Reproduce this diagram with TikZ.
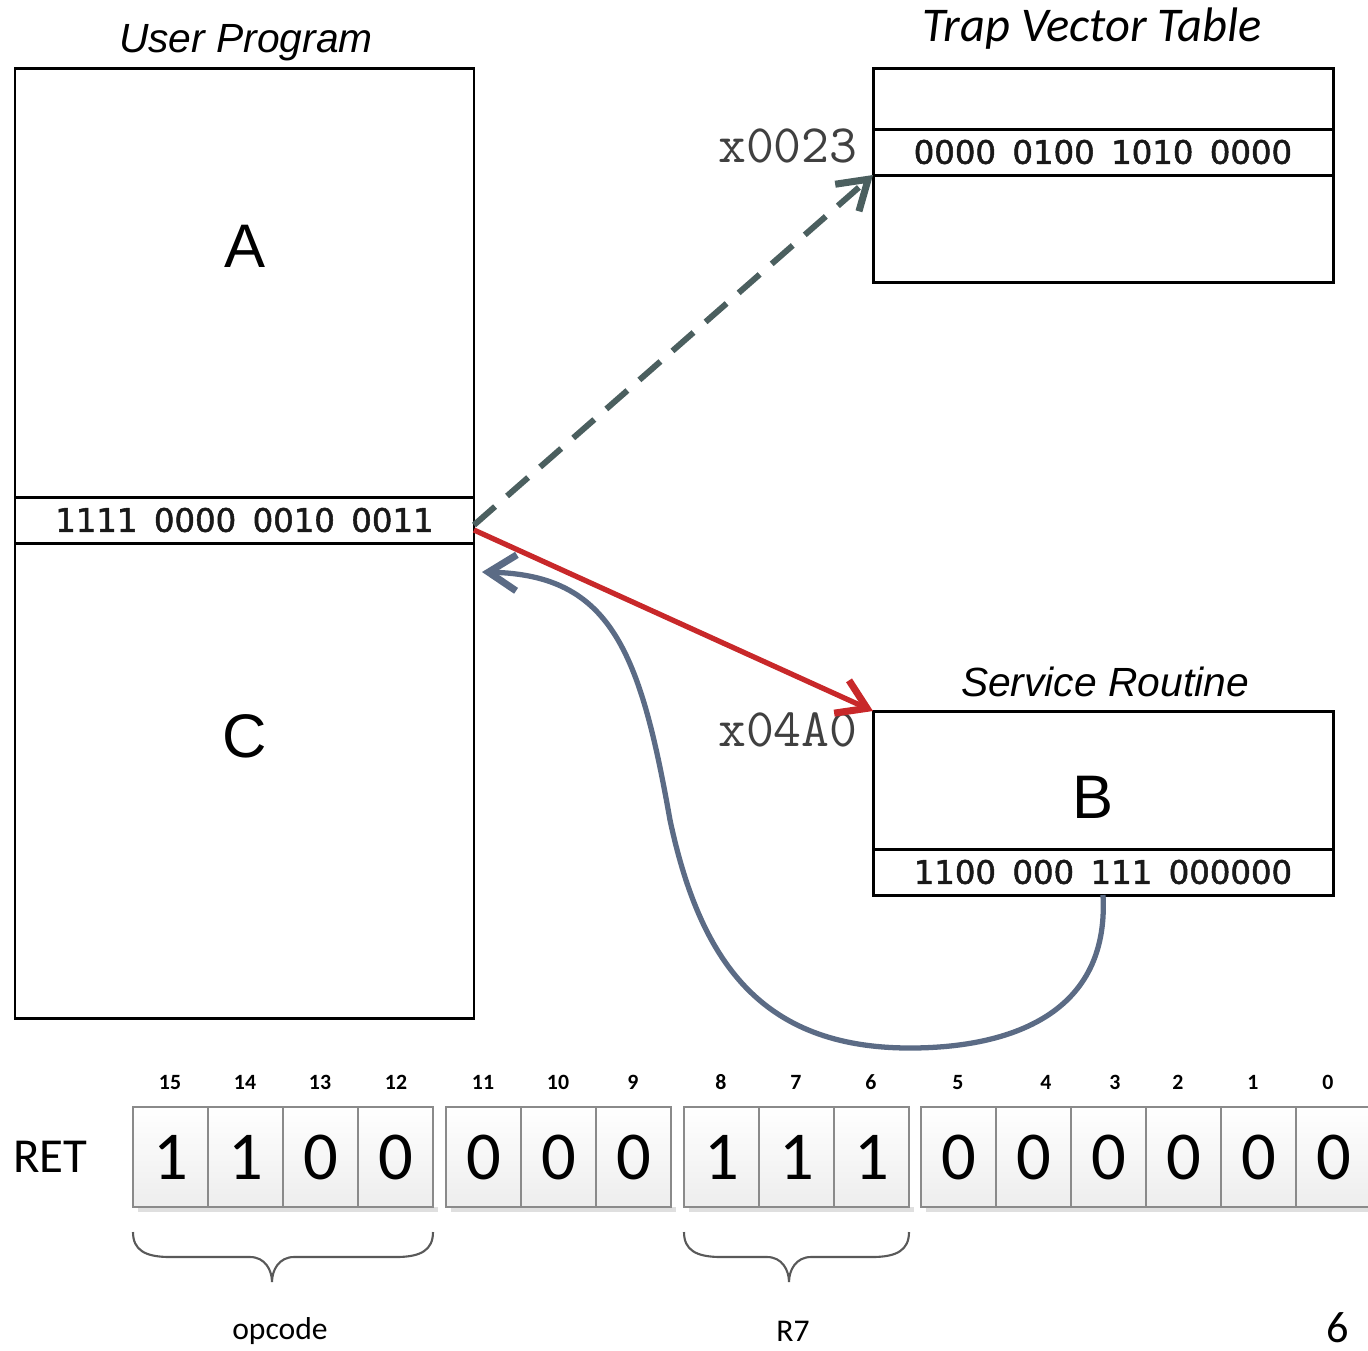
\documentclass[tikz,border=0pt]{standalone}
\usepackage{fontspec}
\setmainfont{Liberation Sans}
\newfontfamily\calibri{Carlito}
\newfontfamily\codefont[WordSpace=1.6, FakeBold=1.6]{DejaVu Sans}
\usetikzlibrary{arrows.meta,calc,positioning}
\definecolor{dashgray}{HTML}{4B5F5F}
\definecolor{jumpred}{HTML}{C8282A}
\definecolor{retblue}{HTML}{5B6B85}
\definecolor{cellgray}{HTML}{8A8A8A}
\tikzset{
  membox/.style={draw, line width=0.85pt, inner sep=0pt, outer sep=0pt, minimum width=4.59cm},
  title/.style={font=\itshape\fontsize{11.6}{13}\selectfont},
  letter/.style={font=\fontsize{17.5}{20}\selectfont},
  code/.style={font=\codefont\fontsize{9.2}{11}\selectfont, text=black!90},
  addr/.style={font=\ttfamily\fontsize{15.4}{17}\selectfont, anchor=east, text=black!75},
  barb/.style={-{Straight Barb[length=2.8mm, width=3.6mm, line width=2pt]}},
  bitcell/.style={draw=cellgray, line width=0.5pt, minimum width=0.75cm, minimum height=1cm,
    inner sep=0pt, top color=white, bottom color=gray!14, font=\calibri\fontsize{19.5}{22}\selectfont},
  bitno/.style={font=\calibri\bfseries\fontsize{6.2}{7}\selectfont},
  brace/.style={draw=black!65, line width=0.6pt},
  note/.style={font=\calibri\fontsize{9}{11}\selectfont},
}
\newcommand\bitbrace[3]{%
  \draw[brace] (#1,-12.32) .. controls (#1,-12.50) and (#1+0.12,-12.57) .. (#1+0.37,-12.57)
    -- (#2-0.22,-12.57) .. controls (#2-0.07,-12.57) and (#2,-12.70) .. (#2,-12.82)
    .. controls (#2,-12.70) and (#2+0.07,-12.57) .. (#2+0.22,-12.57)
    -- (#3-0.37,-12.57) .. controls (#3-0.12,-12.57) and (#3,-12.50) .. (#3,-12.32);}

\begin{document}
\begin{tikzpicture}
  \useasboundingbox (0,0) rectangle (13.68,-13.5);

  % User program
  \node[membox, minimum height=4.29cm] (userA) at (2.445,-2.825) {};
  \node[membox, minimum height=0.46cm] (userI) at (2.445,-5.20) {};
  \node[membox, minimum height=4.75cm] (userC) at (2.445,-7.805) {};
  \node[code] (trapinst) at (userI) {1111 0000 0010 0011};
  \node[letter] (lblA) at (2.45,-2.46) {A};
  \node[letter] (lblC) at (2.45,-7.36) {C};
  \node[title] (usertitle) at (2.46,-0.43) {User Program};

  % Trap vector table
  \node[membox, minimum width=4.60cm, minimum height=0.61cm] (tvtTop) at (11.03,-0.985) {};
  \node[membox, minimum width=4.60cm, minimum height=0.46cm] (tvtEntry) at (11.03,-1.52) {};
  \node[membox, minimum width=4.60cm, minimum height=1.07cm] (tvtBot) at (11.03,-2.285) {};
  \node[code] (vector) at (tvtEntry) {0000 0100 1010 0000};
  \node[addr] (addr23) at (8.70,-1.46) {x0023};
  \node[font=\calibri\itshape\fontsize{13.8}{16}\selectfont] (tvttitle) at (10.92,-0.29) {Trap Vector Table};

  % Service routine
  \node[membox, minimum width=4.60cm, minimum height=1.38cm] (srB) at (11.03,-7.80) {};
  \node[membox, minimum width=4.60cm, minimum height=0.46cm] (srRet) at (11.03,-8.72) {};
  \node[code] (retinst) at (srRet) {1100 000 111 000000};
  \node[letter] (lblB) at (10.93,-7.97) {B};
  \node[addr] (addr4a0) at (8.70,-7.30) {x04A0};
  \node[title] (srtitle) at (11.05,-6.82) {Service Routine};

  % Control flow
  \coordinate (retpt) at (4.82,-5.72);
  \draw[barb, dashgray, line width=1.7pt, dash pattern=on 0.28cm off 0.16cm]
    ($(userI.east)+(0,-0.05)$) -- (tvtEntry.south west);
  \draw[barb, jumpred, line width=1.5pt] ($(userI.east)+(0,-0.10)$) -- (srB.north west);
  \draw[barb, retblue, line width=1.5pt] (srRet.south)
    .. controls (11.10,-10.2) and (10.0,-10.48) .. (9.10,-10.48)
    .. controls (7.6,-10.48) and (7.0,-9.6) .. (6.7,-8.2)
    .. controls (6.4,-6.5) and (6.1,-5.75) .. (retpt);

  % RET encoding
  \node[font=\calibri\fontsize{13.9}{16}\selectfont, anchor=west] (ret) at (0.01,-11.57) {RET};
  \foreach \n/\x/\v in {15/1.33/1, 14/2.08/1, 13/2.83/0, 12/3.58/0,
                        11/4.46/0, 10/5.21/0, 9/5.96/0,
                        8/6.84/1, 7/7.59/1, 6/8.34/1,
                        5/9.21/0, 4/9.96/0, 3/10.71/0, 2/11.46/0, 1/12.21/0, 0/12.96/0} {
    \fill[gray!25] (\x+0.05,-12.07) rectangle (\x+0.80,-12.12);
    \node[bitcell] (bit\n) at (\x+0.375,-11.57) {\v};
  }
  \foreach \n/\x in {15/1.70, 14/2.45, 13/3.20, 12/3.96, 11/4.83, 10/5.58, 9/6.33,
                     8/7.21, 7/7.96, 6/8.71, 5/9.58, 4/10.46, 3/11.15, 2/11.78, 1/12.53, 0/13.28}
    \node[bitno] (no\n) at (\x,-10.82) {\n};

  % Field braces
  \bitbrace{1.33}{2.72}{4.33}
  \bitbrace{6.84}{7.89}{9.09}
  \node[note] (opcode) at (2.80,-13.31) {opcode};
  \node[note] (r7) at (7.93,-13.31) {R7};

  \node[font=\calibri\fontsize{12.6}{14}\selectfont] (page) at (13.38,-13.28) {6};
\end{tikzpicture}
\end{document}
